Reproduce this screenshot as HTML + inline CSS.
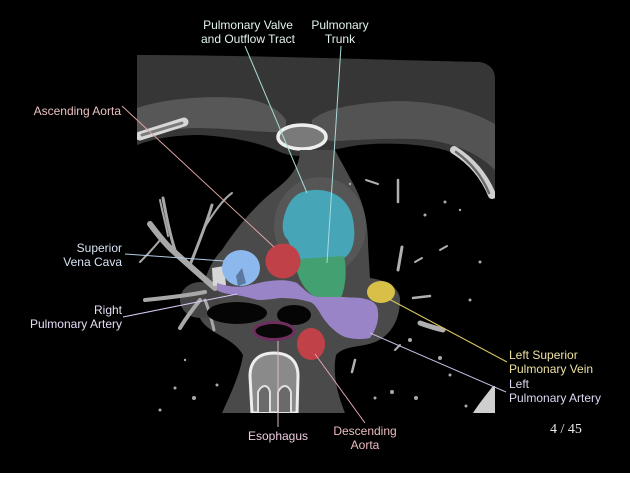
<!DOCTYPE html>
<html><head><meta charset="utf-8"><style>
html,body{margin:0;padding:0;background:#000;}
body{width:630px;height:482px;overflow:hidden;position:relative;}
svg{position:absolute;left:0;top:0;}
text{font-family:"Liberation Sans","DejaVu Sans",sans-serif;font-size:12px;}
</style></head><body>
<svg width="630" height="482" viewBox="0 0 630 482" xmlns="http://www.w3.org/2000/svg">
<defs>
<clipPath id="ct"><rect x="137" y="55" width="358" height="358"/></clipPath>
</defs>
<rect width="630" height="482" fill="#000"/>
<rect x="0" y="473" width="630" height="9" fill="#fff"/>

<g clip-path="url(#ct)">
<!-- chest wall -->
<path d="M137,55 C250,55 380,60 480,62 C490,64 495,70 495,78 L495,200 C485,175 472,160 445,150 C420,144 390,142 360,145 C345,147 335,150 318,153 C305,156 295,158 280,152 C260,143 235,137 200,135 C170,135 150,140 137,145 Z" fill="#363636"/>
<!-- muscle bands -->
<path d="M137,108 C160,100 200,95 240,98 C262,100 278,108 286,120 L286,132 C260,133 230,128 195,128 C170,129 150,134 137,138 Z" fill="#575757"/>
<path d="M312,120 C325,108 360,102 400,101 C440,102 470,110 495,124 L495,170 C480,155 460,145 430,140 C400,137 360,140 335,141 C322,141 314,136 312,128 Z" fill="#535353"/>
<!-- left rib -->
<path d="M140,136 L184,122" stroke="#d8d8d8" stroke-width="9" stroke-linecap="round"/>
<path d="M142,135 L182,123" stroke="#7a7a7a" stroke-width="3" stroke-linecap="round"/>
<!-- right rib -->
<path d="M454,150 C470,160 484,175 492,195" stroke="#d0d0d0" stroke-width="8" fill="none" stroke-linecap="round"/>
<path d="M456,152 C470,162 482,176 489,193" stroke="#6a6a6a" stroke-width="2.5" fill="none" stroke-linecap="round"/>
<!-- sternum -->
<ellipse cx="302" cy="137" rx="24" ry="12" fill="#7a7a7a" stroke="#eeeeee" stroke-width="3.5"/>

<!-- mediastinum -->
<path d="M300,150 L335,150 C340,160 345,168 350,178 C362,198 368,218 368,245 L370,278 C385,280 400,287 400,300 C400,318 392,335 375,342 C360,348 345,345 336,355 C332,375 338,395 345,413 L222,413 C230,395 240,375 243,355 C235,340 215,335 205,325 C195,315 195,300 203,290 C205,275 212,260 222,250 C235,230 255,205 275,190 C292,177 300,165 300,150 Z" fill="#4a4a4a"/>
<ellipse cx="320" cy="226" rx="46" ry="49" fill="#565656"/>
<ellipse cx="200" cy="300" rx="20" ry="18" fill="#444"/>

<!-- lung vessels left -->
<g stroke="#a8a8a8" fill="none" stroke-linecap="round">
<path d="M215,288 C200,275 185,262 170,248 C162,240 156,232 150,224" stroke-width="6"/>
<path d="M190,265 C198,245 206,225 212,205" stroke-width="3"/>
<path d="M175,250 C170,235 166,215 163,198" stroke-width="3"/>
<path d="M205,292 C185,296 165,298 145,300" stroke-width="4"/>
<path d="M200,300 C192,310 186,318 180,328" stroke-width="4"/>
<path d="M205,300 C210,312 212,322 214,330" stroke-width="3"/>
<path d="M160,240 C152,250 146,256 140,262" stroke-width="2"/>
<path d="M203,230 C212,215 222,200 232,193" stroke-width="2"/>
<path d="M160,200 C163,215 166,225 168,236" stroke-width="2"/>
</g>
<path d="M212,268 L224,266 L226,285 L213,286 Z" fill="#d6d6d6"/>
<!-- lung vessels right -->
<g stroke="#b0b0b0" fill="none" stroke-linecap="round">
<path d="M398,180 L398,202" stroke-width="2.5"/>
<path d="M402,247 L398,270" stroke-width="3"/>
<path d="M420,323 C428,326 435,328 443,330" stroke-width="5"/>
<path d="M413,298 L430,296" stroke-width="2.5"/>
<path d="M366,180 L378,184" stroke-width="2"/>
<path d="M415,262 L422,258" stroke-width="2"/>
<path d="M440,250 L447,246" stroke-width="2"/>
<path d="M395,350 L400,345" stroke-width="2"/>
<path d="M355,360 L352,372" stroke-width="2.5"/>
</g>
<g fill="#aaa">
<circle cx="445" cy="202" r="1.5"/><circle cx="425" cy="215" r="1.5"/><circle cx="460" cy="210" r="1.2"/>
<circle cx="350" cy="184" r="1.2"/><circle cx="410" cy="340" r="2"/><circle cx="440" cy="358" r="2"/>
<circle cx="392" cy="392" r="2"/><circle cx="416" cy="398" r="2"/><circle cx="450" cy="375" r="1.5"/>
<circle cx="375" cy="398" r="1.5"/><circle cx="217" cy="385" r="1.5"/><circle cx="194" cy="398" r="2"/>
<circle cx="175" cy="388" r="1.5"/><circle cx="160" cy="410" r="1.5"/><circle cx="466" cy="406" r="1.5"/>
<circle cx="185" cy="360" r="1.2"/><circle cx="470" cy="300" r="1.5"/><circle cx="480" cy="262" r="1.5"/>
</g>
<!-- bottom right rib -->
<path d="M473,413 C480,402 487,394 493,386 L495,386 L495,413 Z" fill="#cfcfcf"/>

<!-- colored structures -->
<path d="M300,193 C320,185 345,192 352,215 C357,235 354,252 344,258 L300,259 C293,253 290,246 288,240 C283,236 282,228 283,222 C285,210 290,198 300,193 Z" fill="#46a6b8"/>
<path d="M298,259 L344,256 C347,270 346,285 341,298 L317,298 C305,292 299,280 296,268 Z" fill="#43a070"/>
<path d="M217,283 C230,287 240,288 250,285 L263,282 C275,280 287,279 297,283 C305,290 310,296 318,297 L343,297 C352,298 360,297 365,299 C372,300 378,304 378,312 C379,320 376,330 370,338 C360,340 352,339 345,337 C335,333 325,322 320,313 C316,306 313,303 310,302 C300,299 290,298 280,298 C272,299 266,300 258,300 C250,298 243,296 236,295 C228,294 221,293 217,290 Z" fill="#9a84c8"/>
<ellipse cx="241" cy="268" rx="19" ry="18" fill="#8cb8ee"/>
<path d="M236,276 L242,268 L246,283 L238,286 Z" fill="#3b4d6a" opacity="0.6"/>
<circle cx="283" cy="261" r="17.5" fill="#c04148"/>
<ellipse cx="381" cy="292" rx="14" ry="11" fill="#d8c048"/>
<!-- airways -->
<ellipse cx="237" cy="313" rx="30" ry="11" fill="#050505"/>
<ellipse cx="294" cy="315" rx="17" ry="10" fill="#050505"/>
<!-- esophagus -->
<ellipse cx="274" cy="331" rx="20" ry="8.5" fill="#080808" stroke="#6e2e5e" stroke-width="3"/>
<!-- descending aorta -->
<ellipse cx="311" cy="344" rx="14" ry="16" fill="#c04148"/>
<!-- vertebra -->
<path d="M252,413 L250,376 C250,360 260,353 274,353 C288,353 298,360 298,376 L297,413 Z" fill="#8a8a8a" stroke="#eeeeee" stroke-width="3"/>
<path d="M258,413 L258,392 C262,384 268,384 270,392 L270,413 Z" fill="#6a6a6a" stroke="#e0e0e0" stroke-width="2"/>
<path d="M278,413 L278,392 C282,384 288,384 291,392 L291,413 Z" fill="#6a6a6a" stroke="#e0e0e0" stroke-width="2"/>
</g>

<!-- leader lines -->
<g fill="none" stroke-width="1">
<line x1="245" y1="46" x2="307" y2="193" stroke="#a8dcd8"/>
<line x1="341" y1="46" x2="327" y2="263" stroke="#a8dcd8"/>
<line x1="122" y1="106" x2="274" y2="247" stroke="#e0a4a4"/>
<line x1="125" y1="254" x2="224" y2="261" stroke="#b4cce6"/>
<line x1="123" y1="317" x2="237" y2="294" stroke="#d8c8f0"/>
<line x1="389" y1="299" x2="507" y2="362" stroke="#d8c860"/>
<line x1="370" y1="333" x2="506" y2="392" stroke="#c8bce0"/>
<line x1="278" y1="341" x2="278" y2="427" stroke="#e0b8d0"/>
<line x1="315" y1="354" x2="365" y2="423" stroke="#e0a4ac"/>
</g>

<!-- labels -->
<g>
<text x="248" y="29" text-anchor="middle" fill="#e2f2ef">Pulmonary Valve</text>
<text x="248" y="43" text-anchor="middle" fill="#e2f2ef">and Outflow Tract</text>
<text x="340" y="29" text-anchor="middle" fill="#e2f2ef">Pulmonary</text>
<text x="340" y="43" text-anchor="middle" fill="#e2f2ef">Trunk</text>
<text x="121" y="115" text-anchor="end" fill="#ecc0c0">Ascending Aorta</text>
<text x="122" y="252" text-anchor="end" fill="#d8e4f4">Superior</text>
<text x="122" y="266" text-anchor="end" fill="#d8e4f4">Vena Cava</text>
<text x="122" y="314" text-anchor="end" fill="#e6dcf4">Right</text>
<text x="122" y="328" text-anchor="end" fill="#e6dcf4">Pulmonary Artery</text>
<text x="509" y="359" fill="#ece0a0">Left Superior</text>
<text x="509" y="373" fill="#ece0a0">Pulmonary Vein</text>
<text x="509" y="388" fill="#ddd6f0">Left</text>
<text x="509" y="402" fill="#ddd6f0">Pulmonary Artery</text>
<text x="278" y="440" text-anchor="middle" fill="#eccce0">Esophagus</text>
<text x="365" y="435" text-anchor="middle" fill="#ecbcc0">Descending</text>
<text x="365" y="449" text-anchor="middle" fill="#ecbcc0">Aorta</text>
<text x="566" y="433" text-anchor="middle" fill="#e8e8e8" style="font-family:'Liberation Serif',serif;font-size:14px;">4 / 45</text>
</g>
</svg>
</body></html>
